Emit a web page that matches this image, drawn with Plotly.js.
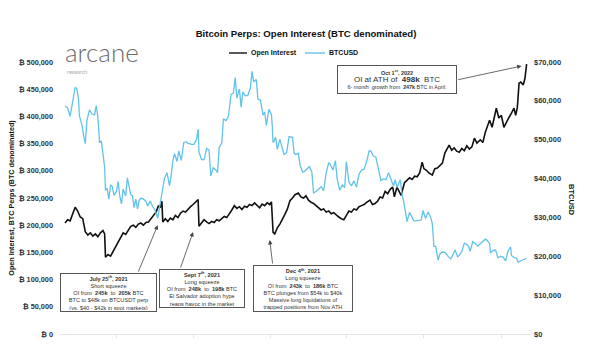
<!DOCTYPE html>
<html>
<head>
<meta charset="utf-8">
<script src="https://cdn.plot.ly/plotly-3.0.1.min.js"></script>
<style>html,body{margin:0;padding:0;background:#fff;}#chart{width:594px;height:363px;}</style>
</head>
<body>
<div id="chart"></div>
<script>
// Open Interest (BTC denominated)
const oiDates = ["2021-04-01","2021-04-04","2021-04-07","2021-04-10","2021-04-13","2021-04-16","2021-04-19","2021-04-22","2021-04-25","2021-04-28","2021-05-01","2021-05-04","2021-05-07","2021-05-10","2021-05-13","2021-05-16","2021-05-18","2021-05-19","2021-05-22","2021-05-25","2021-05-28","2021-05-31","2021-06-03","2021-06-06","2021-06-09","2021-06-12","2021-06-15","2021-06-18","2021-06-21","2021-06-24","2021-06-27","2021-06-30","2021-07-03","2021-07-06","2021-07-09","2021-07-12","2021-07-15","2021-07-18","2021-07-21","2021-07-23","2021-07-25","2021-07-26","2021-07-29","2021-08-01","2021-08-04","2021-08-07","2021-08-10","2021-08-13","2021-08-16","2021-08-19","2021-08-22","2021-08-25","2021-08-28","2021-08-31","2021-09-03","2021-09-06","2021-09-07","2021-09-10","2021-09-13","2021-09-16","2021-09-19","2021-09-22","2021-09-25","2021-09-28","2021-10-01","2021-10-04","2021-10-07","2021-10-10","2021-10-13","2021-10-16","2021-10-19","2021-10-22","2021-10-25","2021-10-28","2021-10-31","2021-11-03","2021-11-06","2021-11-09","2021-11-12","2021-11-15","2021-11-18","2021-11-21","2021-11-24","2021-11-27","2021-11-30","2021-12-02","2021-12-04","2021-12-06","2021-12-09","2021-12-12","2021-12-15","2021-12-18","2021-12-21","2021-12-24","2021-12-27","2021-12-30","2022-01-03","2022-01-06","2022-01-09","2022-01-12","2022-01-15","2022-01-18","2022-01-21","2022-01-24","2022-01-27","2022-01-30","2022-02-02","2022-02-05","2022-02-08","2022-02-11","2022-02-14","2022-02-17","2022-02-20","2022-02-23","2022-02-26","2022-03-01","2022-03-04","2022-03-07","2022-03-10","2022-03-13","2022-03-16","2022-03-19","2022-03-22","2022-03-25","2022-03-29","2022-04-01","2022-04-04","2022-04-07","2022-04-10","2022-04-13","2022-04-16","2022-04-19","2022-04-22","2022-04-25","2022-04-27","2022-04-30","2022-05-03","2022-05-05","2022-05-09","2022-05-12","2022-05-15","2022-05-18","2022-05-21","2022-05-24","2022-05-27","2022-05-30","2022-06-01","2022-06-04","2022-06-07","2022-06-11","2022-06-14","2022-06-17","2022-06-20","2022-06-23","2022-06-26","2022-06-29","2022-07-01","2022-07-04","2022-07-07","2022-07-10","2022-07-13","2022-07-16","2022-07-19","2022-07-22","2022-07-25","2022-07-28","2022-07-31","2022-08-03","2022-08-07","2022-08-10","2022-08-13","2022-08-16","2022-08-18","2022-08-21","2022-08-24","2022-08-26","2022-08-29","2022-09-01","2022-09-04","2022-09-07","2022-09-10","2022-09-13","2022-09-16","2022-09-18","2022-09-20","2022-09-22","2022-09-24","2022-09-27","2022-09-29","2022-10-01"];
const oiValues = [204000,210000,208000,222000,233000,226000,215000,212000,188000,182000,186000,180000,184000,179000,186000,190000,184000,141000,146000,143000,152000,160000,168000,178000,186000,183000,192000,198000,200000,196000,202000,204000,200000,205000,206000,212000,216000,224000,236000,232000,244000,206000,212000,207000,213000,210000,218000,214000,222000,226000,224000,230000,234000,238000,242000,247000,198000,203000,210000,206000,203000,207000,205000,210000,208000,212000,216000,214000,220000,228000,236000,231000,234000,229000,235000,233000,238000,236000,241000,236000,232000,239000,236000,241000,238000,243000,187000,184000,195000,202000,210000,220000,230000,245000,250000,256000,259000,252000,250000,254000,246000,242000,240000,236000,232000,228000,230000,224000,226000,221000,223000,218000,215000,212000,210000,218000,226000,224000,230000,228000,234000,236000,238000,242000,246000,238000,240000,244000,252000,250000,262000,258000,266000,270000,252000,270000,262000,255000,278000,282000,287000,284000,290000,289000,296000,316000,304000,301000,296000,292000,304000,305000,310000,314000,333000,340000,347000,338000,342000,336000,334000,341000,337000,346000,340000,344000,360000,351000,357000,352000,371000,384000,393000,380000,402000,415000,397000,402000,380000,390000,398000,406000,415000,402000,417000,461000,463000,458000,470000,496000];

// BTCUSD price
const btcDates = ["2021-04-01","2021-04-04","2021-04-07","2021-04-10","2021-04-13","2021-04-15","2021-04-17","2021-04-18","2021-04-21","2021-04-23","2021-04-25","2021-04-27","2021-04-30","2021-05-03","2021-05-06","2021-05-08","2021-05-10","2021-05-12","2021-05-14","2021-05-16","2021-05-18","2021-05-19","2021-05-21","2021-05-23","2021-05-25","2021-05-27","2021-05-29","2021-06-01","2021-06-03","2021-06-05","2021-06-07","2021-06-09","2021-06-12","2021-06-14","2021-06-16","2021-06-18","2021-06-20","2021-06-22","2021-06-24","2021-06-26","2021-06-28","2021-06-30","2021-07-03","2021-07-06","2021-07-08","2021-07-11","2021-07-14","2021-07-17","2021-07-20","2021-07-22","2021-07-24","2021-07-26","2021-07-28","2021-07-31","2021-08-03","2021-08-05","2021-08-07","2021-08-09","2021-08-12","2021-08-14","2021-08-17","2021-08-20","2021-08-23","2021-08-25","2021-08-27","2021-08-29","2021-09-01","2021-09-04","2021-09-06","2021-09-07","2021-09-10","2021-09-13","2021-09-16","2021-09-19","2021-09-21","2021-09-24","2021-09-27","2021-09-29","2021-10-01","2021-10-04","2021-10-06","2021-10-09","2021-10-12","2021-10-15","2021-10-18","2021-10-20","2021-10-22","2021-10-25","2021-10-27","2021-10-29","2021-11-01","2021-11-04","2021-11-07","2021-11-09","2021-11-11","2021-11-14","2021-11-16","2021-11-19","2021-11-22","2021-11-24","2021-11-26","2021-11-29","2021-12-02","2021-12-03","2021-12-04","2021-12-07","2021-12-09","2021-12-12","2021-12-14","2021-12-17","2021-12-20","2021-12-23","2021-12-27","2021-12-29","2021-12-31","2022-01-03","2022-01-05","2022-01-08","2022-01-10","2022-01-13","2022-01-16","2022-01-19","2022-01-21","2022-01-24","2022-01-27","2022-01-30","2022-02-02","2022-02-05","2022-02-08","2022-02-10","2022-02-13","2022-02-16","2022-02-18","2022-02-21","2022-02-24","2022-02-27","2022-03-01","2022-03-04","2022-03-07","2022-03-10","2022-03-13","2022-03-16","2022-03-19","2022-03-22","2022-03-25","2022-03-28","2022-03-30","2022-04-02","2022-04-05","2022-04-07","2022-04-11","2022-04-14","2022-04-17","2022-04-20","2022-04-23","2022-04-26","2022-04-28","2022-04-30","2022-05-04","2022-05-06","2022-05-08","2022-05-10","2022-05-12","2022-05-15","2022-05-17","2022-05-20","2022-05-23","2022-05-26","2022-05-29","2022-05-31","2022-06-03","2022-06-06","2022-06-09","2022-06-11","2022-06-13","2022-06-15","2022-06-18","2022-06-20","2022-06-23","2022-06-26","2022-06-28","2022-06-30","2022-07-03","2022-07-06","2022-07-08","2022-07-11","2022-07-13","2022-07-16","2022-07-19","2022-07-21","2022-07-24","2022-07-26","2022-07-29","2022-08-01","2022-08-04","2022-08-07","2022-08-10","2022-08-13","2022-08-15","2022-08-18","2022-08-19","2022-08-22","2022-08-25","2022-08-28","2022-08-31","2022-09-03","2022-09-06","2022-09-09","2022-09-12","2022-09-13","2022-09-16","2022-09-19","2022-09-21","2022-09-24","2022-09-27","2022-09-30","2022-10-01"];
const btcValues = [58700,58200,56000,59800,63500,63100,60400,56200,53800,51100,49000,55000,57700,56600,56400,58800,55800,49200,49700,46400,42900,37000,37500,34700,38400,38000,35700,36700,39200,35500,33500,37300,35500,40200,38300,35800,35600,32500,34700,32200,34400,35000,34700,34200,32900,34200,32800,31800,29800,32300,34200,37300,40000,41500,38200,40900,44600,46400,44400,47100,44700,49300,49500,49000,49000,48800,48800,50000,52700,46800,44900,44900,47700,47300,40700,42800,42200,41500,48100,49100,55400,54900,56000,61600,62100,66000,60700,63100,58400,62300,61300,61400,63300,67600,64900,65500,60400,60200,56300,57100,53700,57800,56500,53600,49200,50600,47500,50100,48400,46200,46700,50800,50600,46500,46200,46500,43500,41700,41800,42600,43100,41700,36300,36700,37200,37900,36900,41400,44100,43600,42200,44600,40000,37000,38300,37700,44400,39100,38100,39400,37800,41100,42200,42400,44300,47100,47100,45800,45500,43500,39500,39900,39700,41500,39500,38100,39700,37700,39700,36000,34100,31000,28900,31300,30400,29200,29100,29200,29400,31800,29700,31400,30100,28400,22500,22600,19000,20600,21100,21000,20300,19900,19300,20600,21600,19900,20200,21200,23400,23200,22600,21300,23800,23300,22600,23200,23900,24400,24100,23300,20800,21500,21600,19600,20000,19800,18800,21400,22400,20200,19700,19500,18500,18900,19100,19400,19300];

// Tick values and labels
const leftTicks = [0,50000,100000,150000,200000,250000,300000,350000,400000,450000,500000];
const leftTickLabels = ["₿ 0","₿ 50,000","₿ 100,000","₿ 150,000","₿ 200,000","₿ 250,000","₿ 300,000","₿ 350,000","₿ 400,000","₿ 450,000","₿ 500,000"];
const rightTicks = [0,10000,20000,30000,40000,50000,60000,70000];
const rightTickLabels = ["$0","$10,000","$20,000","$30,000","$40,000","$50,000","$60,000","$70,000"];

const F = 'Liberation Sans, Arial, sans-serif';
const BLUE = '#62c3ea';

const traces = [
  {x: btcDates, y: btcValues, name: 'BTCUSD', type: 'scatter', mode: 'lines', yaxis: 'y2',
   line: {color: BLUE, width: 1.3}, hoverinfo: 'skip'},
  {x: oiDates, y: oiValues, name: 'Open Interest', type: 'scatter', mode: 'lines', yaxis: 'y',
   line: {color: '#111111', width: 1.6}, hoverinfo: 'skip'}
];

function px2x(p){ return (p-60)/470; }
function px2y(p){ return (334-p)/272; }

const boxFont = {family: F, size: 5.6, color: '#333'};
function box(text, cx, cy, w, h, font){
  return {text: text, xref: 'paper', yref: 'paper', x: px2x(cx), y: px2y(cy), xanchor: 'center', yanchor: 'middle',
    showarrow: false, bordercolor: '#555', borderwidth: 1, borderpad: 1, bgcolor: '#fff',
    width: w, height: h, align: 'center', valign: 'middle', font: font || boxFont};
}
function arrow(x, y, ax, ay){
  return {text: '', x: x, y: y, xref: 'x', yref: 'y', ax: ax, ay: ay, showarrow: true,
    arrowhead: 2, arrowsize: 1.1, arrowwidth: 0.8, arrowcolor: '#444', standoff: 0};
}

const annotations = [
  box('<b>July 25<sup>th</sup>, 2021</b><br>Short squeeze<br>OI from  <b>245k</b>  to  <b>205k</b> BTC<br>BTC to $48k on BTCUSDT perp<br>(vs. $40 - $42k in spot markets)', 108.5, 292.5, 93, 35),
  box('<b>Sept 7<sup>th</sup>, 2021</b><br>Long squeeze<br>OI from  <b>248k</b>  to  <b>198k</b> BTC<br>El Salvador adoption hype<br>reaps havoc in the market', 202, 288.5, 82, 35),
  box('<b>Dec 4<sup>th</sup>, 2021</b><br>Long squeeze<br>OI from  <b>243k</b>  to  <b>186k</b> BTC<br>BTC plunges from $54k to $40k<br>Massive long liquidations of<br>trapped positions from Nov ATH', 303, 288.5, 96, 43),
  box('<b>Oct 1<sup>st</sup>, 2022</b><br><span style="font-size:8px">OI at ATH of  <b>498k</b>  BTC</span><br>6- month  growth from  <b>247k</b> BTC in April.', 397, 79.5, 116, 25, {family: F, size: 5.4, color: '#333'}),
  arrow('2021-07-20', 200000, -20, 48),
  arrow('2021-08-31', 187500, -13, 37),
  arrow('2021-11-30', 172800, 3, 25),
  arrow('2022-09-25', 492600, -65, 14),
  // logo
  {text: 'arcane', xref: 'paper', yref: 'paper', x: px2x(63), y: px2y(52), xanchor: 'left', yanchor: 'middle', showarrow: false,
   font: {family: 'Lato, Open Sans, sans-serif', size: 26, color: '#6b6b6b', weight: 300}},
  {text: 'research', xref: 'paper', yref: 'paper', x: px2x(65), y: px2y(72), xanchor: 'left', yanchor: 'middle', showarrow: false,
   font: {family: 'Lato, Open Sans, sans-serif', size: 5.5, color: '#aaaaaa'}},
  // legend texts
  {text: '<b>Open Interest</b>', xref: 'paper', yref: 'paper', x: px2x(249), y: px2y(53), xanchor: 'left', yanchor: 'middle', showarrow: false,
   font: {family: F, size: 7, color: '#111'}},
  {text: '<b>BTCUSD</b>', xref: 'paper', yref: 'paper', x: px2x(327), y: px2y(53), xanchor: 'left', yanchor: 'middle', showarrow: false,
   font: {family: F, size: 7, color: '#111'}},
  // right axis title
  {text: '<b>BTCUSD</b>', xref: 'paper', yref: 'paper', x: px2x(572), y: px2y(200), xanchor: 'center', yanchor: 'middle', showarrow: false,
   textangle: 90, font: {family: F, size: 7.5, color: '#111'}}
];

const shapes = [
  {type: 'line', xref: 'paper', yref: 'paper', x0: px2x(229), x1: px2x(247), y0: px2y(53), y1: px2y(53), line: {color: '#111', width: 1.4}},
  {type: 'line', xref: 'paper', yref: 'paper', x0: px2x(305), x1: px2x(325), y0: px2y(53), y1: px2y(53), line: {color: BLUE, width: 1.4}}
];

const layout = {
  width: 594, height: 363,
  margin: {l: 60, r: 64, t: 62, b: 29, pad: 0},
  paper_bgcolor: '#fff', plot_bgcolor: '#fff',
  showlegend: false,
  title: {text: '<b>Bitcoin Perps: Open Interest (BTC denominated)</b>', x: 306/594, xanchor: 'center', y: 1-34/363, yanchor: 'middle',
          font: {family: F, size: 9.6, color: '#111'}},
  xaxis: {type: 'date', range: ['2021-03-26', '2022-10-05'], showgrid: false, zeroline: false, showticklabels: false,
          showline: true, linecolor: '#e4e4e4', linewidth: 1, ticks: 'outside', tickcolor: '#e4e4e4', ticklen: 3,
          tickvals: ['2021-06-01','2021-09-01','2021-12-01','2022-03-01','2022-06-01','2022-09-01']},
  yaxis: {range: [0, 500000], tickmode: 'array', tickvals: leftTicks, ticktext: leftTickLabels, showgrid: false, zeroline: false,
          ticks: '', ticklabelstandoff: 6, tickfont: {family: F, size: 7.3, color: '#333', weight: 'bold'},
          title: {text: '<b>Open Interest, BTC Perps (BTC denominated)</b>', font: {family: F, size: 7.2, color: '#111'}, standoff: 3}},
  yaxis2: {range: [0, 70000], tickmode: 'array', tickvals: rightTicks, ticktext: rightTickLabels, overlaying: 'y', side: 'right',
           showgrid: false, zeroline: false, ticks: '', ticklabelstandoff: 3,
           tickfont: {family: F, size: 7.5, color: '#333', weight: 'bold'}},
  annotations: annotations,
  shapes: shapes
};

Plotly.newPlot('chart', traces, layout, {displayModeBar: false, staticPlot: true});
</script>
</body>
</html>
